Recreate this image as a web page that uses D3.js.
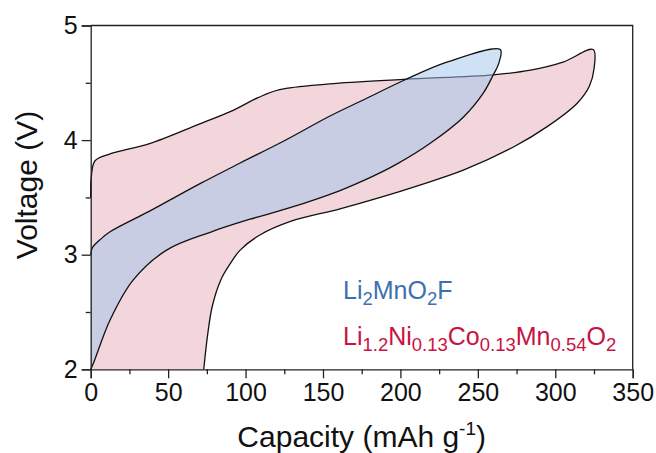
<!DOCTYPE html>
<html>
<head>
<meta charset="utf-8">
<script src="https://cdn.jsdelivr.net/npm/d3@7"></script>
<style>
  html, body { margin: 0; padding: 0; background: #fff; }
  svg { display: block; font-family: Arial, "Liberation Sans", sans-serif; }
</style>
</head>
<body>
<svg id="chart" width="656" height="453"></svg>
<script>
// ---- Data (capacity mAh/g, voltage V) ----
const lmnoCharge = [[0,3.5],[0.4,3.68],[2.8,3.82],[12.5,3.88],[38,3.97],[70,4.14],[92,4.26],[108,4.37],[122,4.44],[154,4.49],[202,4.53],[260,4.57],[284,4.61],[305,4.68],[324.5,4.79]];
const lmnoDischarge = [[324.5,4.79],[325,4.62],[322,4.47],[314,4.32],[295,4.12],[273,3.94],[241,3.74],[213,3.61],[187,3.50],[161,3.40],[129,3.29],[109,3.17],[96.5,3.04],[90,2.92],[84,2.78],[78.5,2.55],[75.5,2.3],[73,2.0]];
const lmofCharge = [[0,3.0],[1,3.06],[6,3.13],[12.5,3.2],[38,3.38],[70.6,3.62],[96.5,3.8],[124.4,3.99],[154.5,4.21],[176,4.35],[202,4.52],[230,4.68],[264.5,4.79]];
const lmofDischarge = [[264.5,4.79],[263.5,4.67],[260,4.57],[253.5,4.41],[240.6,4.20],[219,3.97],[197.6,3.79],[180,3.67],[161,3.56],[128.7,3.41],[103,3.31],[78,3.2],[49,3.04],[27.5,2.78],[12.5,2.43],[1.7,2.05],[0,2.0]];
const xTicks = [0,50,100,150,200,250,300,350];
const yTicks = [2,3,4,5];
const xMinor = [25,75,125,175,225,275,325];
const yMinor = [2.5,3.5,4.5];

const svg = d3.select("#chart");
const m = {left: 90.7, right: 23.3, top: 25.5, bottom: 83.7};
const W = 656, H = 453;
const x = d3.scaleLinear().domain([0,350]).range([m.left, W - m.right]);
const y = d3.scaleLinear().domain([2,5]).range([H - m.bottom, m.top]);

const line = d3.line().x(d => x(d[0])).y(d => y(d[1])).curve(d3.curveCatmullRom.alpha(0.5));

// Li-rich (pink) region: closed along the axes at bottom-left
const pinkLoop = lmnoCharge.concat(lmnoDischarge.slice(1));
svg.append("path").attr("d", line(pinkLoop) + "L" + x(0) + "," + y(2) + "Z")
  .attr("fill", "#f3d6dc").attr("stroke", "none");
svg.append("path").attr("d", line(pinkLoop))
  .attr("fill", "none").attr("stroke", "#111").attr("stroke-width", 1.3);

// Li2MnO2F (blue) region
const bluePts = lmofCharge.concat(lmofDischarge.slice(1));
svg.append("path").attr("d", line(bluePts) + "Z")
  .attr("fill", "rgb(158,196,236)").attr("fill-opacity", 0.5).attr("stroke", "none");
svg.append("path").attr("d", line(bluePts))
  .attr("fill", "none").attr("stroke", "#111").attr("stroke-width", 1.3);

// Frame (top and right, no ticks)
svg.append("path")
  .attr("d", `M${x(0)},${y(5)}H${x(350)}V${y(2)}`)
  .attr("fill", "none").attr("stroke", "#222").attr("stroke-width", 1.3);

// Axes
svg.append("g").attr("transform", `translate(0,${y(2)})`)
  .call(d3.axisBottom(x).tickValues(xTicks).tickSize(9).tickPadding(5).tickFormat(d3.format("d")));
svg.append("g").attr("transform", `translate(${x(0)},0)`)
  .call(d3.axisLeft(y).tickValues(yTicks).tickSize(9).tickPadding(4).tickFormat(d3.format("d")));
svg.append("g").attr("transform", `translate(0,${y(2)})`)
  .call(d3.axisBottom(x).tickValues(xMinor).tickSize(5).tickFormat(""))
  .select(".domain").remove();
svg.append("g").attr("transform", `translate(${x(0)},0)`)
  .call(d3.axisLeft(y).tickValues(yMinor).tickSize(5).tickFormat(""))
  .select(".domain").remove();
svg.selectAll(".domain").attr("stroke", "#222").attr("stroke-width", 1.3);
svg.selectAll(".tick line").attr("stroke", "#222").attr("stroke-width", 1.3);
svg.selectAll(".tick text").attr("font-size", 25).attr("fill", "#111")
  .attr("font-family", "Arial, 'Liberation Sans', sans-serif");

// Axis titles
const xt = svg.append("text").attr("x", (x(0)+x(350))/2).attr("y", 447)
  .attr("text-anchor", "middle").attr("font-size", 30).attr("fill", "#111");
xt.append("tspan").text("Capacity (mAh g");
xt.append("tspan").attr("font-size", 19).attr("dy", -12).text("-1");
xt.append("tspan").attr("dy", 12).text(")");

svg.append("text").attr("transform", `translate(37,${185}) rotate(-90)`)
  .attr("text-anchor", "middle").attr("font-size", 30).attr("fill", "#111")
  .text("Voltage (V)");

// Legend labels with subscripts
function formula(g, parts, xPos, yPos, color) {
  const t = g.append("text").attr("x", xPos).attr("y", yPos).attr("font-size", 25).attr("fill", color);
  let sub = false;
  parts.forEach(p => {
    const isSub = p[1];
    const ts = t.append("tspan").text(p[0]);
    if (isSub) ts.attr("font-size", 18.5);
    if (isSub && !sub) { ts.attr("dy", 6); sub = true; }
    else if (!isSub && sub) { ts.attr("dy", -6); sub = false; }
  });
}
const lmofLabel = [["Li",0],["2",1],["MnO",0],["2",1],["F",0]];
const lmnoLabel = [["Li",0],["1.2",1],["Ni",0],["0.13",1],["Co",0],["0.13",1],["Mn",0],["0.54",1],["O",0],["2",1]];
formula(svg, lmofLabel, 343, 299, "#3e6fae");
formula(svg, lmnoLabel, 343, 345, "#c9123f");
</script>
</body>
</html>
